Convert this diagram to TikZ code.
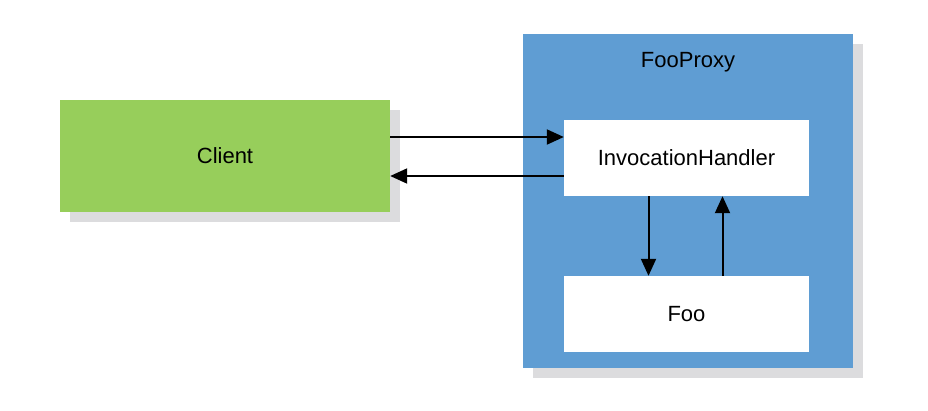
\documentclass[tikz,border=0pt]{standalone}
\usepackage{fontspec}
\setmainfont{Liberation Sans}
\usepackage{xcolor}
\usepackage{tikz}
\usetikzlibrary{positioning, arrows.meta, shadows}
\definecolor{clientgreen}{RGB}{151,206,91}
\definecolor{proxyblue}{RGB}{95,157,211}
\definecolor{shadowgray}{RGB}{220,220,222}

\begin{document}
\begin{tikzpicture}[x=1pt, y=-1pt, every node/.style={inner sep=0pt, font=\fontsize{22}{26}\selectfont},
    boxshadow/.style={drop shadow={shadow xshift=10pt, shadow yshift=-10pt, fill=shadowgray, opacity=1}},
    arr/.style={-{Triangle[length=17pt,width=15pt]}, line width=2pt}]
  \useasboundingbox (0,0) rectangle (928,410);
  \node[rectangle,fill=clientgreen,boxshadow,minimum width=330pt,minimum height=112pt] (client) at (225,156) {Client};
  \node[rectangle,fill=proxyblue,boxshadow,minimum width=330pt,minimum height=334pt] (proxy) at (688,201) {};
  \node[below=28pt of proxy.north,anchor=center] (proxytitle) {FooProxy};
  \node[rectangle,fill=white,minimum width=245pt,minimum height=76pt] (handler) at (686.5,158) {InvocationHandler};
  \node[rectangle,fill=white,minimum width=245pt,minimum height=76pt] (foo) at (686.5,314) {Foo};
  \draw[arr] ([yshift=19pt]client.east) -- ([yshift=19pt]client.east -| handler.west);
  \draw[arr] ([yshift=-20pt]client.east -| handler.west) -- ([yshift=-20pt]client.east);
  \draw[arr] ([xshift=-38pt]handler.south) -- ([xshift=-38pt]foo.north);
  \draw[arr] ([xshift=36pt]foo.north) -- ([xshift=36pt]handler.south);
\end{tikzpicture}
\end{document}
